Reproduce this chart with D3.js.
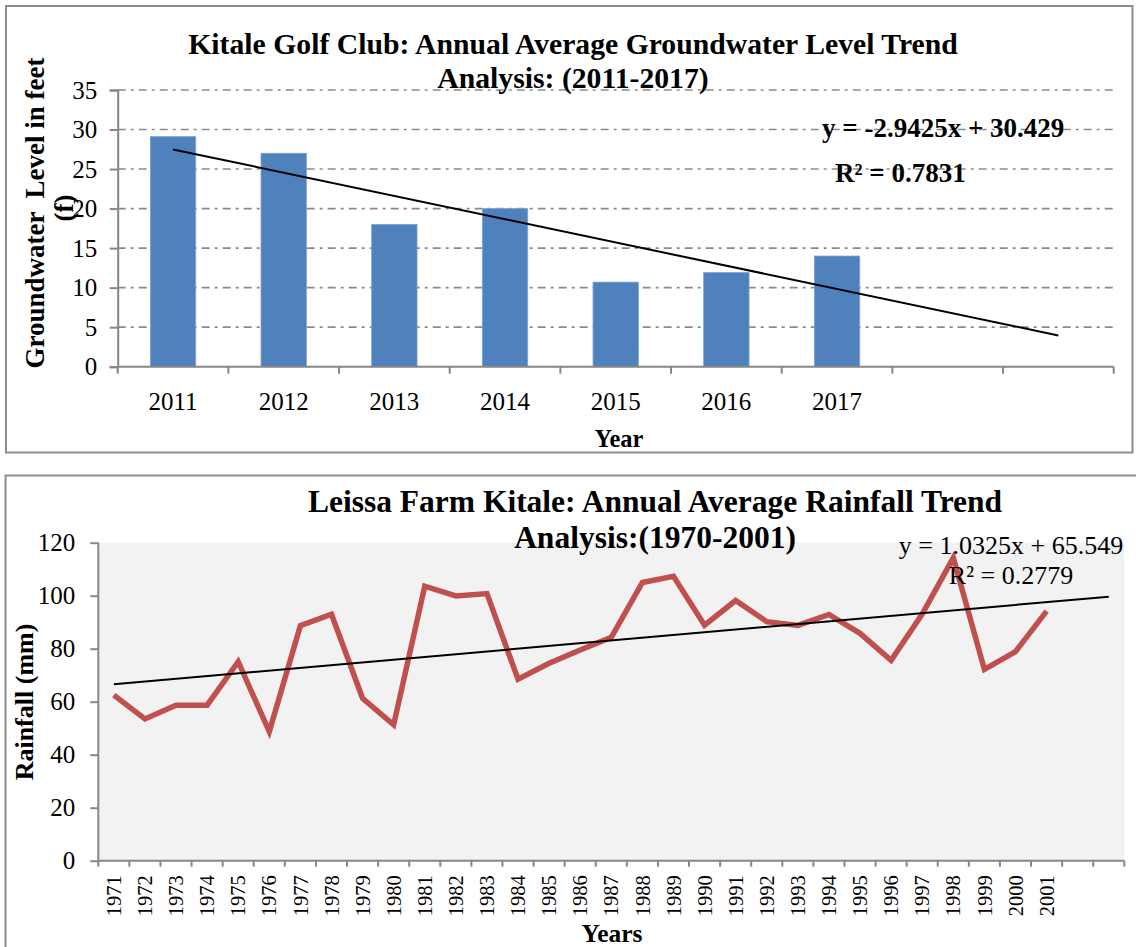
<!DOCTYPE html>
<html><head><meta charset="utf-8">
<script src="https://cdn.jsdelivr.net/npm/d3@7"></script>
<style>
body{margin:0;background:#fff}
svg{display:block}
text{font-family:"Liberation Serif","Times New Roman",serif;fill:#000}
</style>
</head><body>
<svg id="c" width="1136" height="947" font-family="Liberation Serif, Times New Roman, serif"></svg>
<script>
// ---------- Data: groundwater chart ----------
const gwCategories = ["2011","2012","2013","2014","2015","2016","2017","",""];
const gwValues = [29.1, 27.0, 18.0, 20.0, 10.7, 11.9, 14.0];
const gwTicks = [0, 5, 10, 15, 20, 25, 30, 35];
const gwTrendSlope = -2.9425;
const gwTrendIntercept = 30.429;
const gwEquation = ["y = -2.9425x + 30.429", "R\u00B2 = 0.7831"];
const gwTitle = ["Kitale Golf Club: Annual Average Groundwater Level Trend", "Analysis: (2011-2017)"];
const gwYLabel = ["Groundwater  Level in feet", "(f)"];
const gwXLabel = "Year";

// ---------- Data: rainfall chart ----------
const rainCategories = ["1971","1972","1973","1974","1975","1976","1977","1978","1979","1980",
  "1981","1982","1983","1984","1985","1986","1987","1988","1989","1990",
  "1991","1992","1993","1994","1995","1996","1997","1998","1999","2000","2001","",""];
const rainValues = [62.5, 53.5, 58.7, 58.7, 75.1, 48.7, 88.7, 93.0, 61.3, 51.3,
  103.6, 99.9, 100.8, 68.5, 74.5, 79.5, 84.3, 105.0, 107.3, 88.9,
  98.2, 90.2, 88.8, 92.9, 85.8, 75.6, 93.1, 114.3, 72.2, 78.9, 94.2];
const rainTicks = [0, 20, 40, 60, 80, 100, 120];
const rainTrendSlope = 1.0325;
const rainTrendIntercept = 65.549;
const rainEquation = ["y = 1.0325x + 65.549", "R\u00B2 = 0.2779"];
const rainTitle = ["Leissa Farm Kitale: Annual Average Rainfall Trend", "Analysis:(1970-2001)"];
const rainYLabel = "Rainfall (mm)";
const rainXLabel = "Years";

const FONT = "Liberation Serif, Times New Roman, serif";
const svg = d3.select("#c");
const AXIS = "#868686";

// ================= TOP CHART =================
{
  svg.append("rect").attr("x",6).attr("y",6).attr("width",1126.5).attr("height",446.5)
    .attr("fill","none").attr("stroke","#8c8c8c").attr("stroke-width",2);

  const L = 117.7, R = 1113.7, T = 90, B = 366.7;
  const x = d3.scaleBand().domain(d3.range(gwCategories.length)).range([L, R]).padding(0);
  const y = d3.scaleLinear().domain([0, 35]).range([B, T]);
  const cx = i => x(i) + x.bandwidth()/2;

  // gridlines
  svg.append("g").selectAll("line").data(gwTicks.filter(t => t > 0)).join("line")
    .attr("x1", L).attr("x2", R).attr("y1", d => y(d)).attr("y2", d => y(d))
    .attr("stroke","#8a8a8a").attr("stroke-width",1.6).attr("stroke-dasharray","8,5,3,5");

  // bars
  const bw = x.bandwidth()*0.41;
  svg.append("g").selectAll("rect").data(gwValues).join("rect")
    .attr("x",(d,i)=>cx(i)-bw/2).attr("width",bw)
    .attr("y",d=>y(d)).attr("height",d=>B-y(d))
    .attr("fill","#4F81BD").attr("stroke","#7ea3d3").attr("stroke-width",0.8);

  // y axis
  const ya = svg.append("g").attr("transform",`translate(${L},0)`)
    .call(d3.axisLeft(y).tickValues(gwTicks).tickSize(8).tickPadding(12.5))
    .attr("font-family",FONT).attr("font-size",25);
  ya.select(".domain").attr("stroke",AXIS).attr("stroke-width",2);
  ya.selectAll(".tick line").attr("stroke",AXIS).attr("stroke-width",2);
  ya.selectAll(".tick text").attr("font-size","25px").attr("font-family",FONT).attr("fill","#000");

  // x axis (labels)
  const xa = svg.append("g").attr("transform",`translate(0,${B})`)
    .call(d3.axisBottom(x).tickSize(0).tickPadding(0).tickFormat(i => gwCategories[i]))
    .attr("font-family",FONT).attr("font-size",25);
  xa.select(".domain").attr("stroke",AXIS).attr("stroke-width",2).attr("d",`M${L},0H${R}`);
  xa.selectAll(".tick text").attr("font-size","25px").attr("font-family",FONT)
    .attr("dy",null).attr("y",43.5).attr("fill","#000");
  // boundary ticks
  svg.append("g").selectAll("line").data(d3.range(gwCategories.length+1)).join("line")
    .attr("x1",i => L + i*x.step()).attr("x2",i => L + i*x.step())
    .attr("y1",B).attr("y2",B+7).attr("stroke",AXIS).attr("stroke-width",2);

  // trend line
  const n = gwCategories.length;
  const tr = [1, n].map(k => [cx(k-1), y(gwTrendIntercept + gwTrendSlope*k)]);
  svg.append("path").attr("d", d3.line()(tr)).attr("stroke","#000").attr("stroke-width",2).attr("fill","none");

  // equation
  svg.append("text").attr("x",822).attr("y",137).attr("font-size","27px").attr("font-weight","bold").text(gwEquation[0]);
  svg.append("text").attr("x",835).attr("y",181.5).attr("font-size","27px").attr("font-weight","bold").text(gwEquation[1]);

  // title
  svg.append("text").attr("x",573).attr("y",54).attr("text-anchor","middle").attr("font-size","29.7px").attr("font-weight","bold").text(gwTitle[0]);
  svg.append("text").attr("x",573).attr("y",88).attr("text-anchor","middle").attr("font-size","29.7px").attr("font-weight","bold").text(gwTitle[1]);

  // y label
  svg.append("text").attr("transform","translate(43.5,213) rotate(-90)").attr("text-anchor","middle")
    .attr("font-size","27px").attr("font-weight","bold").style("white-space","pre").text(gwYLabel[0]);
  svg.append("text").attr("transform","translate(73,208) rotate(-90)").attr("text-anchor","middle")
    .attr("font-size","27px").attr("font-weight","bold").text(gwYLabel[1]);

  // x label
  svg.append("text").attr("x",619).attr("y",446.5).attr("text-anchor","middle").attr("font-size","24.5px").attr("font-weight","bold").text(gwXLabel);
}

// ================= BOTTOM CHART =================
{
  svg.append("rect").attr("x",5.5).attr("y",475.5).attr("width",1150).attr("height",500)
    .attr("fill","none").attr("stroke","#8c8c8c").attr("stroke-width",2);

  const L = 98.3, R = 1124.3, T = 542.7, B = 860.7;
  const x = d3.scaleBand().domain(d3.range(rainCategories.length)).range([L, R]).padding(0);
  const y = d3.scaleLinear().domain([0, 120]).range([B, T]);
  const cx = i => x(i) + x.bandwidth()/2;

  svg.append("rect").attr("x",L).attr("y",T).attr("width",R-L).attr("height",B-T).attr("fill","#F2F2F2");

  // y axis
  const ya = svg.append("g").attr("transform",`translate(${L},0)`)
    .call(d3.axisLeft(y).tickValues(rainTicks).tickSize(8).tickPadding(15))
    .attr("font-family",FONT).attr("font-size",25);
  ya.select(".domain").attr("stroke",AXIS).attr("stroke-width",2).attr("d",`M0,${T}V${B}`);
  ya.selectAll(".tick line").attr("stroke",AXIS).attr("stroke-width",2);
  ya.selectAll(".tick text").attr("font-size","25px").attr("font-family",FONT).attr("fill","#000");

  // x axis labels (rotated)
  const xa = svg.append("g").attr("transform",`translate(0,${B})`)
    .call(d3.axisBottom(x).tickSize(0).tickPadding(0).tickFormat(i => rainCategories[i]))
    .attr("font-family",FONT).attr("font-size",20.5);
  xa.select(".domain").attr("stroke",AXIS).attr("stroke-width",2).attr("d",`M${L},0H${R}`);
  xa.selectAll(".tick text").attr("font-size","20.5px").attr("font-family",FONT).attr("fill","#000")
    .attr("y",null).attr("dy","0.35em").attr("text-anchor","end")
    .attr("transform","translate(0,14.5) rotate(-90)");
  // boundary ticks
  svg.append("g").selectAll("line").data(d3.range(rainCategories.length+1)).join("line")
    .attr("x1",i => L + i*x.step()).attr("x2",i => L + i*x.step())
    .attr("y1",B).attr("y2",B+6).attr("stroke",AXIS).attr("stroke-width",2);

  // data line
  svg.append("path").datum(rainValues)
    .attr("d", d3.line().x((d,i)=>cx(i)).y(d=>y(d)))
    .attr("fill","none").attr("stroke","#C0504D").attr("stroke-width",5.5).attr("stroke-linejoin","miter");

  // trend
  const n = rainCategories.length;
  const tr = [1, n].map(k => [cx(k-1), y(rainTrendIntercept + rainTrendSlope*k)]);
  svg.append("path").attr("d", d3.line()(tr)).attr("stroke","#000").attr("stroke-width",2).attr("fill","none");

  // equation
  svg.append("text").attr("x",1011).attr("y",553.5).attr("text-anchor","middle").attr("font-size","26px").text(rainEquation[0]);
  svg.append("text").attr("x",1011).attr("y",583.5).attr("text-anchor","middle").attr("font-size","26px").text(rainEquation[1]);

  // title
  svg.append("text").attr("x",655).attr("y",511.5).attr("text-anchor","middle").attr("font-size","31.5px").attr("font-weight","bold").text(rainTitle[0]);
  svg.append("text").attr("x",655).attr("y",548.3).attr("text-anchor","middle").attr("font-size","31.5px").attr("font-weight","bold").text(rainTitle[1]);

  // y label
  svg.append("text").attr("transform","translate(33,702) rotate(-90)").attr("text-anchor","middle")
    .attr("font-size","26px").attr("font-weight","bold").text(rainYLabel);

  // x label
  svg.append("text").attr("x",612).attr("y",941.5).attr("text-anchor","middle").attr("font-size","25.5px").attr("font-weight","bold").text(rainXLabel);
}
</script>
</body></html>
